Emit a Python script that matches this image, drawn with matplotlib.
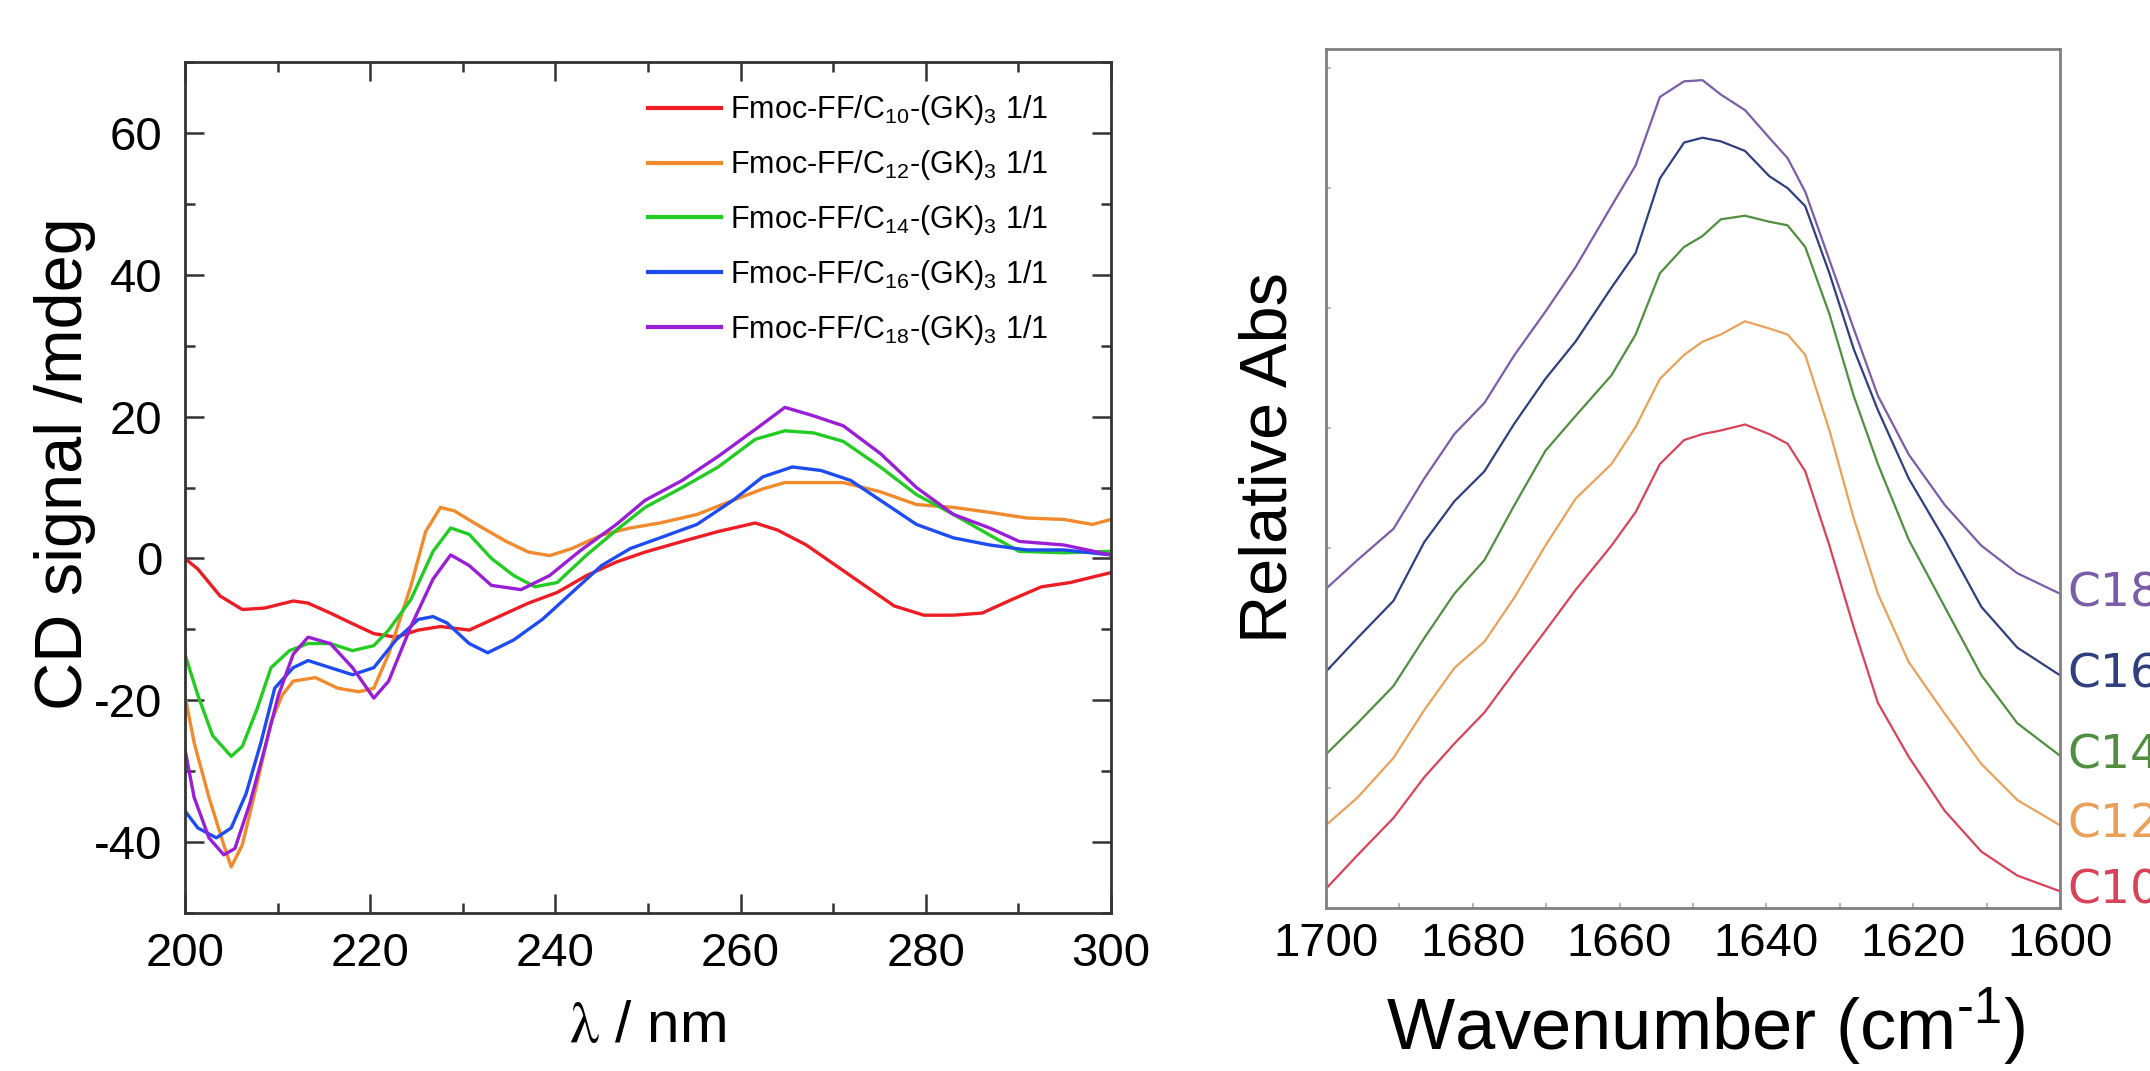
# -*- coding=utf-8 -*-
import matplotlib
matplotlib.use('Agg')
from matplotlib import pyplot as plt
from matplotlib.ticker import MultipleLocator, NullLocator
import matplotlib.transforms as mtrans

plt.rcParams['font.family'] = ['Liberation Sans', 'DejaVu Sans']
plt.rcParams['mathtext.fontset'] = 'custom'
plt.rcParams['mathtext.rm'] = 'Liberation Sans'
plt.rcParams['mathtext.it'] = 'Liberation Sans:italic'
plt.rcParams['mathtext.bf'] = 'Liberation Sans:bold'
plt.rcParams['axes.unicode_minus'] = False

# ---------------- CD spectra (left panel) ----------------
cd_labels = [r'Fmoc-FF/C$_{10}$-(GK)$_3$ 1/1',
             r'Fmoc-FF/C$_{12}$-(GK)$_3$ 1/1',
             r'Fmoc-FF/C$_{14}$-(GK)$_3$ 1/1',
             r'Fmoc-FF/C$_{16}$-(GK)$_3$ 1/1',
             r'Fmoc-FF/C$_{18}$-(GK)$_3$ 1/1']
cd_colors = ['#ee1c24', '#f08a2c', '#22cc22', '#1c4cf2', '#9a1ed6']

c10_wl = [200, 201.4, 203.8, 206.2, 208.6, 211.7, 213.3, 215.7, 218.1, 220.4, 222.8,
          225.2, 227.6, 230.7, 233.9, 237.1, 240.2, 243.4, 246.6, 249.7, 253.7, 257.6,
          261.6, 264, 267.1, 270.3, 273.5, 276.6, 279.8, 283, 286.1, 289.3, 292.5,
          295.6, 300]
c10_cd = [0, -1.5, -5.3, -7.2, -7.0, -6.0, -6.3, -7.7, -9.2, -10.6, -11.1,
          -10.1, -9.6, -10.1, -8.2, -6.3, -4.8, -2.4, -0.5, 0.9, 2.4, 3.8,
          5.0, 4.0, 1.9, -1.0, -3.9, -6.7, -8.0, -8.0, -7.7, -5.8, -4.0,
          -3.4, -2.0]

c12_wl = [200, 201, 202.6, 204.2, 205, 206.2, 207.8, 209.3, 210.5, 211.7, 214.1,
          216.5, 218.8, 220.4, 222, 224.4, 226, 227.6, 229.1, 231.5, 234.7, 237.1,
          239.4, 241.8, 245, 248.1, 251.3, 255.3, 259.2, 262.4, 264.8, 271.1, 275.1,
          279, 283, 286.9, 290.9, 294.9, 298, 300]
c12_cd = [-19.3, -26, -33.7, -40.4, -43.5, -40.4, -31.7, -23.1, -19.3, -17.3, -16.8,
          -18.3, -18.8, -18.3, -13.5, -3.9, 3.8, 7.2, 6.7, 4.8, 2.4, 0.9,
          0.4, 1.4, 3.3, 4.3, 5.0, 6.2, 8.2, 9.8, 10.7, 10.7, 9.4,
          7.6, 7.2, 6.5, 5.7, 5.5, 4.8, 5.5]

c14_wl = [200, 201.4, 203, 205, 206.2, 207.8, 209.3, 211.3, 213.3, 215.7, 218.1,
          220.4, 222, 224.4, 226.8, 228.7, 230.7, 233.1, 235.5, 237.8, 240.2, 243.4,
          246.6, 249.7, 253.7, 257.6, 261.6, 264.8, 267.9, 271.1, 275.1, 279, 283,
          286.9, 290.1, 294.9, 300]
c14_cd = [-13.5, -19.3, -25.0, -27.9, -26.5, -21.2, -15.4, -13.0, -12.0, -12.0, -13.0,
          -12.3, -10.1, -5.8, 1.0, 4.3, 3.4, 0, -2.4, -4.0, -3.4, 0.5,
          4.0, 7.2, 10.0, 12.9, 16.8, 18.0, 17.7, 16.5, 12.9, 9.0, 6.2,
          3.3, 1.0, 0.8, 1.0]

c16_wl = [200, 201.4, 203.4, 205, 206.6, 208.2, 209.7, 211.7, 213.3, 215.7, 218.1,
          220.4, 222.8, 225.2, 226.8, 228.3, 230.7, 232.7, 235.5, 238.6, 241.8, 245,
          248.1, 251.3, 255.3, 259.2, 262.4, 265.6, 268.7, 271.9, 275.1, 279, 283,
          286.9, 290.9, 294.9, 300]
c16_cd = [-35.6, -38, -39.4, -38, -33.2, -26, -18.3, -15.4, -14.4, -15.4, -16.4,
          -15.4, -11.5, -8.6, -8.2, -9.1, -12.0, -13.3, -11.5, -8.6, -4.8, -1.0,
          1.4, 2.9, 4.8, 8.2, 11.5, 12.9, 12.4, 11.0, 8.2, 4.8, 2.9,
          1.9, 1.2, 1.2, 0.5]

c18_wl = [200, 201, 202.6, 204.2, 205.4, 207, 208.6, 210.1, 211.7, 213.3, 215.7,
          218.1, 220.4, 222, 224.4, 226.8, 228.7, 230.7, 233.1, 236.3, 239.4, 242.6,
          246.6, 249.7, 253.7, 257.6, 261.6, 264.8, 267.9, 271.1, 275.1, 279, 283,
          286.9, 290.1, 294.9, 300]
c18_cd = [-26.9, -33.7, -39.4, -41.8, -40.9, -34.6, -26.9, -19.3, -13.5, -11.1, -12.0,
          -15.4, -19.7, -17.3, -9.6, -2.9, 0.5, -1.0, -3.8, -4.4, -2.4, 1.0,
          4.8, 8.2, 11.0, 14.4, 18.2, 21.3, 20.1, 18.7, 14.8, 10.0, 6.2,
          4.3, 2.4, 1.9, 0.5]

cd_x = [c10_wl, c12_wl, c14_wl, c16_wl, c18_wl]
cd_y = [c10_cd, c12_cd, c14_cd, c16_cd, c18_cd]

# ---------------- FTIR amide I (right panel) ----------------
ir_names = ['C10', 'C12', 'C14', 'C16', 'C18']
ir_colors = ['#d9435a', '#e9a15a', '#4f8f3f', '#2f3f80', '#7b5ca8']

wn = [1700, 1695.7, 1690.8, 1686.6, 1682.5, 1678.4, 1674.3, 1670.1, 1666.0, 1661.1,
      1657.8, 1654.5, 1651.2, 1648.7, 1646.2, 1642.9, 1639.6, 1637.1, 1634.7, 1631.4,
      1628.1, 1624.8, 1620.6, 1615.7, 1610.7, 1605.8, 1600]
c10_abs = [0.16, 0.44, 0.75, 1.09, 1.37, 1.63, 1.97, 2.31, 2.65, 3.02,
           3.30, 3.70, 3.90, 3.95, 3.98, 4.03, 3.95, 3.87, 3.64, 3.02,
           2.34, 1.71, 1.26, 0.81, 0.47, 0.27, 0.14]
c12_abs = [0.69, 0.92, 1.25, 1.65, 2.00, 2.22, 2.59, 3.02, 3.41, 3.70,
           4.01, 4.41, 4.61, 4.72, 4.78, 4.89, 4.83, 4.78, 4.61, 3.98,
           3.25, 2.62, 2.05, 1.62, 1.20, 0.90, 0.69]
c14_abs = [1.28, 1.54, 1.85, 2.25, 2.62, 2.90, 3.36, 3.81, 4.10, 4.44,
           4.78, 5.29, 5.51, 5.60, 5.74, 5.77, 5.72, 5.69, 5.51, 4.95,
           4.27, 3.70, 3.07, 2.51, 1.94, 1.54, 1.27]
c16_abs = [1.97, 2.25, 2.56, 3.05, 3.39, 3.64, 4.04, 4.41, 4.72, 5.17,
           5.46, 6.08, 6.38, 6.42, 6.39, 6.31, 6.10, 6.00, 5.85, 5.29,
           4.66, 4.15, 3.58, 3.07, 2.51, 2.17, 1.94]
c18_abs = [2.66, 2.90, 3.16, 3.58, 3.95, 4.21, 4.61, 4.97, 5.34, 5.85,
           6.19, 6.76, 6.89, 6.90, 6.78, 6.65, 6.42, 6.25, 5.97, 5.40,
           4.83, 4.27, 3.78, 3.36, 3.02, 2.79, 2.62]
ir_y = [c10_abs, c12_abs, c14_abs, c16_abs, c18_abs]


fig = plt.figure(figsize=(21.5, 10.71), dpi=100)

# 左图 CD
ax = fig.add_axes([0.0860, 0.1475, 0.4307, 0.7946])
for x, y, c, lab in zip(cd_x, cd_y, cd_colors, cd_labels):
    ax.plot(x, y, color=c, linewidth=2.4, label=lab, solid_joinstyle='round')

ax.set_xlim(200, 300)
ax.set_ylim(-50, 70)
ax.xaxis.set_major_locator(MultipleLocator(20))
ax.xaxis.set_minor_locator(MultipleLocator(10))
ax.yaxis.set_major_locator(MultipleLocator(20))
ax.yaxis.set_minor_locator(MultipleLocator(10))
ax.set_yticks([-40, -20, 0, 20, 40, 60])
ax.tick_params(which='both', direction='in', top=True, right=True,
               width=1.8, color='#333333', labelsize=34)
ax.tick_params(which='major', length=13.5)
ax.tick_params(which='minor', length=7)
ax.tick_params(axis='y', pad=16)
ax.tick_params(axis='x', pad=14)
for s in ax.spines.values():
    s.set_linewidth(2.0)
    s.set_color('#333333')

ax.set_ylabel('CD signal /mdeg', fontsize=48)
ax.yaxis.set_label_coords(-0.096, 0.528)
ax.set_xlabel(r'$\mathrm{\lambda}$ / nm', fontsize=42, math_fontfamily='stix')
ax.xaxis.set_label_coords(0.5, -0.102)

leg = ax.legend(loc='upper left', bbox_to_anchor=(0.500, 0.963), frameon=False,
                fontsize=22, handlelength=2.4, handletextpad=0.3,
                labelspacing=0.68, borderpad=0, borderaxespad=0)
for h in leg.get_lines():
    h.set_linewidth(3)

# 右图 FTIR
ax2 = fig.add_axes([0.6167, 0.1522, 0.3414, 0.8021])
for y, c in zip(ir_y, ir_colors):
    ax2.plot(wn, y, color=c, linewidth=1.6, solid_joinstyle='round')

ax2.set_xlim(1700, 1600)
ax2.set_ylim(0, 7.16)
ax2.xaxis.set_major_locator(MultipleLocator(20))
ax2.xaxis.set_minor_locator(MultipleLocator(10))
ax2.yaxis.set_major_locator(MultipleLocator(1))
ax2.yaxis.set_minor_locator(NullLocator())
ax2.tick_params(which='both', direction='in', length=3.6, width=1.2,
                color='#a8a8a8', labelsize=34)
ax2.tick_params(axis='x', pad=10)
ax2.tick_params(axis='y', labelleft=False)
for s in ax2.spines.values():
    s.set_linewidth(2.0)
    s.set_color('#808080')

ax2.set_ylabel('Relative Abs', fontsize=48)
ax2.yaxis.set_label_coords(-0.034, 0.524)
ax2.set_xlabel(r'Wavenumber (cm$^{\text{-}1}$)', fontsize=52)
ax2.xaxis.set_label_coords(0.518, -0.09)

# 曲线右端的标签
trans = mtrans.blended_transform_factory(ax2.transAxes, ax2.transData)
for y, c, name in zip(ir_y, ir_colors, ir_names):
    ax2.text(1.01, y[-1], name, transform=trans, color=c, fontsize=34,
             family=['DejaVu Sans'], va='center', clip_on=False)

fig.savefig('out.png', dpi=100)
